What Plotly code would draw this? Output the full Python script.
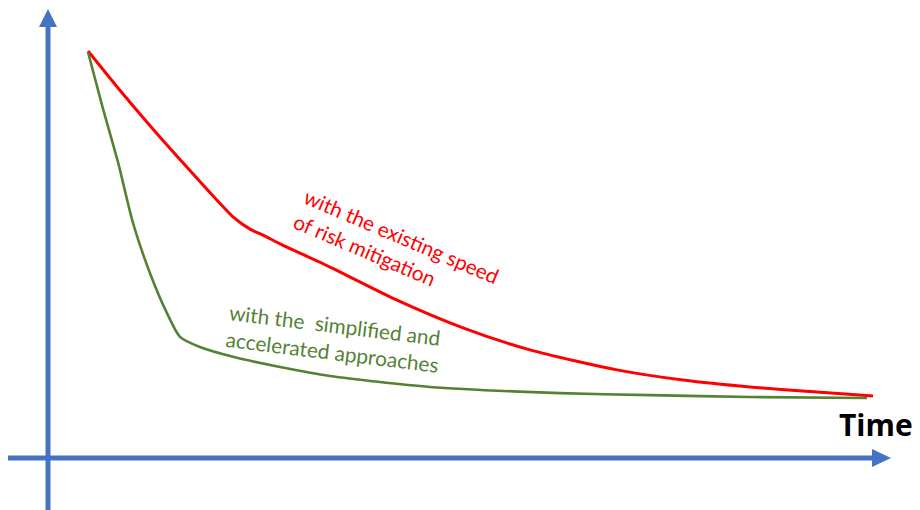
import plotly.graph_objects as go

W, H = 920, 510
OFF = 8  # page body margin offset

# Data (time units, risk units)
time_red = [4.0, 7.0, 10.4, 13.7, 16.9, 18.5, 20.2, 21.7, 23.2, 28.2, 34.9, 41.5, 48.2, 56.9, 63.5, 70.2, 76.9, 82.5]
risk_red = [99.75, 90.7, 80.9, 71.8, 63.2, 59.1, 56.1, 54.4, 52.5, 46.8, 38.7, 31.9, 26.5, 21.6, 19.1, 17.4, 16.2, 15.2]

time_green = [4.0, 5.4, 7.0, 8.5, 10.2, 11.9, 13.2, 15.2, 18.5, 23.2, 28.2, 38.2, 51.2, 60.2, 70.2, 81.9]
risk_green = [99.5, 86.5, 72.5, 57.6, 45.3, 35.5, 29.7, 27.2, 24.8, 22.3, 20.1, 17.4, 15.9, 15.4, 14.95, 14.7]

label_red = "with the existing speed<br>of risk mitigation"
label_green = "with the\u00a0 simplified and<br>accelerated approaches"
label_time = "Time"

RED = "#FF0000"
GREEN = "#548235"
BLUE = "#4472C4"

def px(x, y):
    return (x - OFF) / W, 1 - (y - OFF) / H

fig = go.Figure()
fig.add_trace(go.Scatter(x=time_red, y=risk_red, mode="lines",
                         line=dict(color=RED, width=3, shape="spline", smoothing=0.7),
                         hoverinfo="skip"))
fig.add_trace(go.Scatter(x=time_green, y=risk_green, mode="lines",
                         line=dict(color=GREEN, width=2.6, shape="spline", smoothing=0.7),
                         hoverinfo="skip"))

shapes = []
x0, y0 = px(48, 520)
x1, y1 = px(48, 26)
shapes.append(dict(type="line", xref="paper", yref="paper", x0=x0, y0=y0, x1=x1, y1=y1,
                   line=dict(color=BLUE, width=5)))
x0, y0 = px(7, 458)
x1, y1 = px(873, 458)
shapes.append(dict(type="line", xref="paper", yref="paper", x0=x0, y0=y0, x1=x1, y1=y1,
                   line=dict(color=BLUE, width=5)))

def tri(pts):
    p = [px(a, b) for a, b in pts]
    return "M {} {} L {} {} L {} {} Z".format(p[0][0], p[0][1], p[1][0], p[1][1], p[2][0], p[2][1])

shapes.append(dict(type="path", xref="paper", yref="paper", path=tri([(48, 9), (39, 27), (57, 27)]),
                   fillcolor=BLUE, line=dict(color=BLUE, width=0)))
shapes.append(dict(type="path", xref="paper", yref="paper", path=tri([(891, 458), (872, 449), (872, 467)]),
                   fillcolor=BLUE, line=dict(color=BLUE, width=0)))

annotations = []
ax_, ay_ = px(396, 248)
annotations.append(dict(x=ax_, y=ay_, xref="paper", yref="paper", text=label_red, showarrow=False,
                        textangle=23, align="left", xanchor="center", yanchor="middle",
                        font=dict(family="Lato", size=20.6, color=RED)))
ax_, ay_ = px(334, 338)
annotations.append(dict(x=ax_, y=ay_, xref="paper", yref="paper", text=label_green, showarrow=False,
                        textangle=7, align="left", xanchor="center", yanchor="middle",
                        font=dict(family="Lato", size=20.8, color=GREEN)))
ax_, ay_ = px(876, 424)
annotations.append(dict(x=ax_, y=ay_, xref="paper", yref="paper", text="<b>" + label_time + "</b>",
                        showarrow=False, xanchor="center", yanchor="middle",
                        font=dict(family="Open Sans", size=30, color="black")))

# axis ranges so that px = 48 + 10*t and py = 458 - 4.08*r (page coordinates)
xr0 = (OFF - 48) / 10
xr1 = (OFF + W - 48) / 10
yr0 = (458 - (OFF + H)) / 4.08
yr1 = (458 - OFF) / 4.08

fig.update_layout(
    width=W, height=H,
    margin=dict(l=0, r=0, t=0, b=0),
    paper_bgcolor="white", plot_bgcolor="white",
    showlegend=False,
    xaxis=dict(range=[xr0, xr1], visible=False, fixedrange=True),
    yaxis=dict(range=[yr0, yr1], visible=False, fixedrange=True),
    shapes=shapes, annotations=annotations,
)

fig.write_html("out.html")
